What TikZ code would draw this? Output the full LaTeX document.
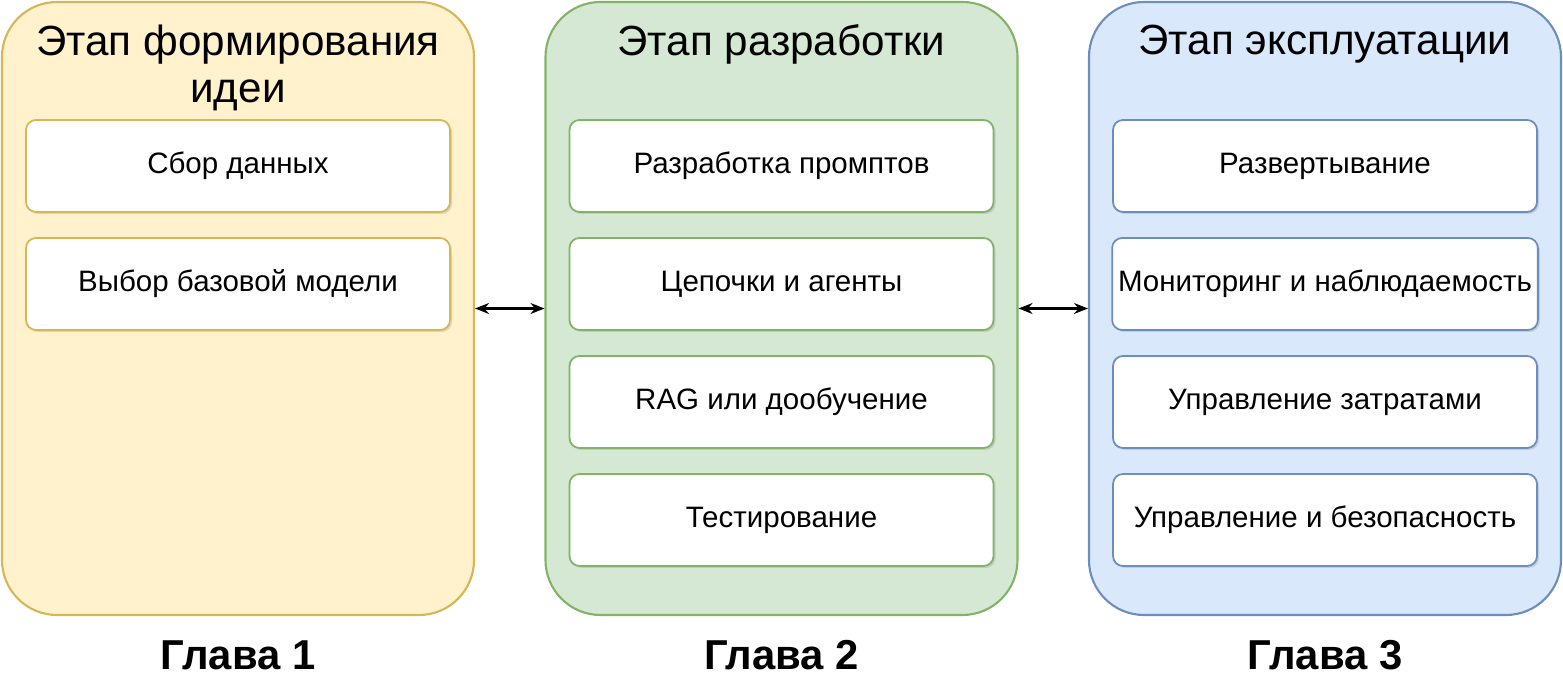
\documentclass[tikz,border=0pt]{standalone}
\usepackage{fontspec}
\setmainfont{Liberation Sans}
\usetikzlibrary{arrows.meta}
\usetikzlibrary{positioning}
\usetikzlibrary{shadows}

\definecolor{ideafill}{HTML}{FFF2CC}
\definecolor{ideadraw}{HTML}{D6B656}
\definecolor{devfill}{HTML}{D5E8D4}
\definecolor{devdraw}{HTML}{82B366}
\definecolor{opsfill}{HTML}{DAE8FC}
\definecolor{opsdraw}{HTML}{6C8EBF}

\tikzset{
  stage/.style={draw, line width=1.2pt, rounded corners=1.1cm, minimum width=472*0.02cm, minimum height=613*0.02cm},
  task/.style={draw, fill=white, line width=1pt, rounded corners=0.2cm, minimum width=424*0.02cm, minimum height=92*0.02cm,
    font=\fontsize{16.8}{19}\selectfont, drop shadow={opacity=0.25, shadow xshift=0.04cm, shadow yshift=-0.04cm}},
  title/.style={font=\fontsize{24}{27}\selectfont, align=center},
  chapter/.style={font=\fontsize{23.8}{28}\selectfont\bfseries},
  link/.style={{Stealth[length=0.28cm, width=0.22cm]}-{Stealth[length=0.28cm, width=0.22cm]}, line width=1.2pt}
}

\begin{document}
\begin{tikzpicture}[x=0.02cm, y=-0.02cm]
  \useasboundingbox (0,0) rectangle (1563,688);

  % stages
  \node[stage, draw=ideadraw, fill=ideafill] (idea) at (238,308.5) {};
  \node[stage, draw=devdraw, fill=devfill] (dev) at (781.5,308.5) {};
  \node[stage, draw=opsdraw, fill=opsfill] (ops) at (1325,308.5) {};

  \node[title] (ideaT) at (238,68) {Этап формирования\\идеи};
  \node[title] (devT) at (781.5,44) {Этап разработки};
  \node[title] (opsT) at (1325,44) {Этап эксплуатации};

  % tasks
  \node[task, draw=ideadraw] (i1) at (238,166) {Сбор данных};
  \node[task, draw=ideadraw] (i2) at (238,284) {Выбор базовой модели};

  \node[task, draw=devdraw] (d1) at (781.5,166) {Разработка промптов};
  \node[task, draw=devdraw] (d2) at (781.5,284) {Цепочки и агенты};
  \node[task, draw=devdraw] (d3) at (781.5,402) {RAG или дообучение};
  \node[task, draw=devdraw] (d4) at (781.5,520) {Тестирование};

  \node[task, draw=opsdraw] (o1) at (1325,166) {Развертывание};
  \node[task, draw=opsdraw] (o2) at (1325,284) {Мониторинг и наблюдаемость};
  \node[task, draw=opsdraw] (o3) at (1325,402) {Управление затратами};
  \node[task, draw=opsdraw] (o4) at (1325,520) {Управление и безопасность};

  % links
  \draw[link] (idea.east) -- (dev.west);
  \draw[link] (dev.east) -- (ops.west);

  % chapters
  \node[chapter] (c1) at (238,655) {Глава 1};
  \node[chapter] (c2) at (781.5,655) {Глава 2};
  \node[chapter] (c3) at (1325,655) {Глава 3};
\end{tikzpicture}
\end{document}
